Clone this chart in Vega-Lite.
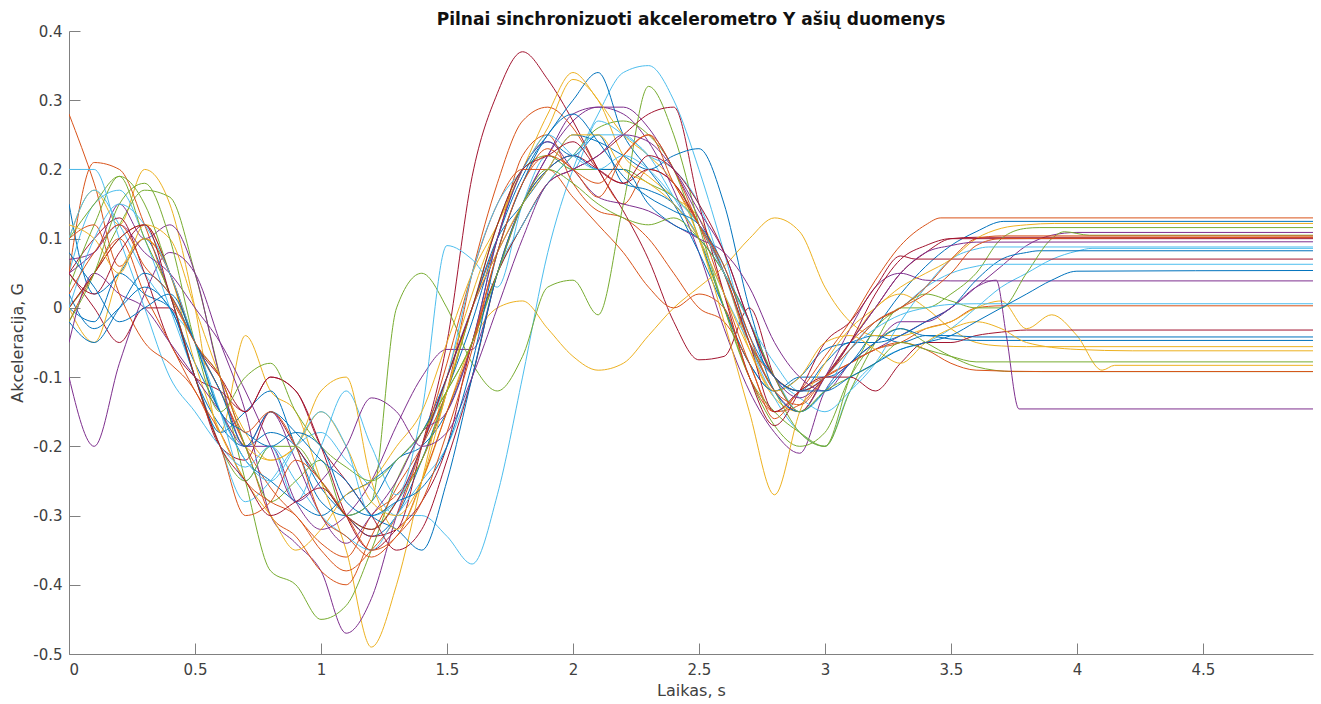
{
"$schema":"https://vega.github.io/schema/vega-lite/v6.json",
"width":1244,"height":623,
"autosize":{"type":"none"},
"padding":{"left":69,"top":31,"right":8,"bottom":50},
"background":"white",
"title":{"text":"Pilnai sinchronizuoti akcelerometro Y ašių duomenys","font":"DejaVu Sans","fontSize":17,"fontWeight":"bold","color":"#111111","offset":-5,"anchor":"middle"},
"config":{"view":{"stroke":null},"axis":{"grid":false,"domainColor":"#808080","tickColor":"#808080","labelColor":"#404040","titleColor":"#404040","labelFont":"DejaVu Sans","titleFont":"DejaVu Sans","labelFontSize":15,"titleFontSize":16,"titleFontWeight":"normal","tickSize":-11,"tickWidth":1,"domainWidth":1}},
"data":{"values":[
{"s":1,"x":0,"y":0.15},{"s":1,"x":0.1,"y":0.02},{"s":1,"x":0.2,"y":0.05},{"s":1,"x":0.3,"y":0.1},{"s":1,"x":0.4,"y":0.02},{"s":1,"x":0.5,"y":-0.1},{"s":1,"x":0.6,"y":-0.17},{"s":1,"x":0.7,"y":-0.2},{"s":1,"x":0.8,"y":-0.18},{"s":1,"x":0.9,"y":-0.2},{"s":1,"x":1.0,"y":-0.26},{"s":1,"x":1.1,"y":-0.3},{"s":1,"x":1.2,"y":-0.33},{"s":1,"x":1.3,"y":-0.3},{"s":1,"x":1.4,"y":-0.22},{"s":1,"x":1.5,"y":-0.12},{"s":1,"x":1.6,"y":-0.02},{"s":1,"x":1.7,"y":0.1},{"s":1,"x":1.8,"y":0.19},{"s":1,"x":1.9,"y":0.24},{"s":1,"x":2.0,"y":0.22},{"s":1,"x":2.1,"y":0.25},{"s":1,"x":2.2,"y":0.18},{"s":1,"x":2.3,"y":0.17},{"s":1,"x":2.4,"y":0.15},{"s":1,"x":2.5,"y":0.1},{"s":1,"x":2.6,"y":0.0},{"s":1,"x":2.7,"y":-0.08},{"s":1,"x":2.8,"y":-0.12},{"s":1,"x":2.9,"y":-0.1},{"s":1,"x":3.0,"y":-0.1},{"s":1,"x":3.1,"y":-0.08},{"s":1,"x":3.2,"y":-0.03},{"s":1,"x":3.3,"y":0.02},{"s":1,"x":3.4,"y":0.06},{"s":1,"x":3.5,"y":0.09},{"s":1,"x":3.6,"y":0.11},{"s":1,"x":3.71,"y":0.125},{"s":1,"x":4.94,"y":0.125},
{"s":2,"x":0,"y":0.28},{"s":2,"x":0.1,"y":0.18},{"s":2,"x":0.2,"y":0.06},{"s":2,"x":0.3,"y":0.1},{"s":2,"x":0.4,"y":0.05},{"s":2,"x":0.5,"y":-0.05},{"s":2,"x":0.6,"y":-0.12},{"s":2,"x":0.7,"y":-0.2},{"s":2,"x":0.8,"y":-0.26},{"s":2,"x":0.9,"y":-0.3},{"s":2,"x":1.0,"y":-0.34},{"s":2,"x":1.1,"y":-0.36},{"s":2,"x":1.2,"y":-0.3},{"s":2,"x":1.3,"y":-0.27},{"s":2,"x":1.4,"y":-0.22},{"s":2,"x":1.5,"y":-0.12},{"s":2,"x":1.6,"y":0.05},{"s":2,"x":1.7,"y":0.18},{"s":2,"x":1.8,"y":0.27},{"s":2,"x":1.9,"y":0.29},{"s":2,"x":2.0,"y":0.26},{"s":2,"x":2.1,"y":0.2},{"s":2,"x":2.2,"y":0.15},{"s":2,"x":2.3,"y":0.2},{"s":2,"x":2.4,"y":0.18},{"s":2,"x":2.5,"y":0.12},{"s":2,"x":2.6,"y":0.02},{"s":2,"x":2.7,"y":-0.08},{"s":2,"x":2.8,"y":-0.15},{"s":2,"x":2.9,"y":-0.12},{"s":2,"x":3.0,"y":-0.07},{"s":2,"x":3.1,"y":-0.02},{"s":2,"x":3.2,"y":0.04},{"s":2,"x":3.3,"y":0.09},{"s":2,"x":3.4,"y":0.12},{"s":2,"x":3.46,"y":0.13},{"s":2,"x":4.94,"y":0.13},
{"s":3,"x":0,"y":0.1},{"s":3,"x":0.1,"y":0.17},{"s":3,"x":0.2,"y":0.12},{"s":3,"x":0.3,"y":0.2},{"s":3,"x":0.4,"y":0.15},{"s":3,"x":0.5,"y":0.0},{"s":3,"x":0.6,"y":-0.18},{"s":3,"x":0.7,"y":-0.04},{"s":3,"x":0.8,"y":-0.12},{"s":3,"x":0.9,"y":-0.15},{"s":3,"x":1.0,"y":-0.25},{"s":3,"x":1.1,"y":-0.35},{"s":3,"x":1.2,"y":-0.49},{"s":3,"x":1.3,"y":-0.4},{"s":3,"x":1.4,"y":-0.25},{"s":3,"x":1.5,"y":-0.1},{"s":3,"x":1.6,"y":0.02},{"s":3,"x":1.7,"y":0.12},{"s":3,"x":1.8,"y":0.2},{"s":3,"x":1.9,"y":0.26},{"s":3,"x":2.0,"y":0.33},{"s":3,"x":2.1,"y":0.3},{"s":3,"x":2.2,"y":0.22},{"s":3,"x":2.3,"y":0.19},{"s":3,"x":2.4,"y":0.16},{"s":3,"x":2.5,"y":0.13},{"s":3,"x":2.6,"y":0.05},{"s":3,"x":2.7,"y":-0.06},{"s":3,"x":2.8,"y":-0.13},{"s":3,"x":2.9,"y":-0.15},{"s":3,"x":3.0,"y":-0.1},{"s":3,"x":3.1,"y":-0.05},{"s":3,"x":3.2,"y":0.0},{"s":3,"x":3.3,"y":0.02},{"s":3,"x":3.4,"y":0.0},{"s":3,"x":3.5,"y":-0.03},{"s":3,"x":3.6,"y":-0.05},{"s":3,"x":3.7,"y":-0.055},{"s":3,"x":3.8,"y":-0.056},{"s":3,"x":4.94,"y":-0.056},
{"s":4,"x":0,"y":-0.1},{"s":4,"x":0.1,"y":-0.2},{"s":4,"x":0.2,"y":-0.08},{"s":4,"x":0.3,"y":0.02},{"s":4,"x":0.4,"y":0.08},{"s":4,"x":0.5,"y":0.05},{"s":4,"x":0.6,"y":-0.05},{"s":4,"x":0.7,"y":-0.15},{"s":4,"x":0.8,"y":-0.3},{"s":4,"x":0.9,"y":-0.34},{"s":4,"x":1.0,"y":-0.38},{"s":4,"x":1.1,"y":-0.47},{"s":4,"x":1.2,"y":-0.42},{"s":4,"x":1.3,"y":-0.3},{"s":4,"x":1.4,"y":-0.2},{"s":4,"x":1.5,"y":-0.1},{"s":4,"x":1.6,"y":0.0},{"s":4,"x":1.7,"y":0.08},{"s":4,"x":1.8,"y":0.15},{"s":4,"x":1.9,"y":0.22},{"s":4,"x":2.0,"y":0.27},{"s":4,"x":2.1,"y":0.29},{"s":4,"x":2.2,"y":0.28},{"s":4,"x":2.3,"y":0.24},{"s":4,"x":2.4,"y":0.17},{"s":4,"x":2.5,"y":0.08},{"s":4,"x":2.6,"y":-0.03},{"s":4,"x":2.7,"y":-0.12},{"s":4,"x":2.8,"y":-0.18},{"s":4,"x":2.9,"y":-0.21},{"s":4,"x":3.0,"y":-0.12},{"s":4,"x":3.1,"y":-0.08},{"s":4,"x":3.2,"y":-0.06},{"s":4,"x":3.3,"y":-0.04},{"s":4,"x":3.4,"y":-0.02},{"s":4,"x":3.5,"y":0.0},{"s":4,"x":3.6,"y":0.03},{"s":4,"x":3.7,"y":0.06},{"s":4,"x":3.8,"y":0.09},{"s":4,"x":3.9,"y":0.105},{"s":4,"x":4.0,"y":0.109},{"s":4,"x":4.94,"y":0.109},
{"s":5,"x":0,"y":0.0},{"s":5,"x":0.1,"y":0.05},{"s":5,"x":0.2,"y":0.12},{"s":5,"x":0.3,"y":0.17},{"s":5,"x":0.4,"y":0.16},{"s":5,"x":0.5,"y":0.05},{"s":5,"x":0.6,"y":-0.1},{"s":5,"x":0.7,"y":-0.25},{"s":5,"x":0.8,"y":-0.38},{"s":5,"x":0.9,"y":-0.4},{"s":5,"x":1.0,"y":-0.45},{"s":5,"x":1.1,"y":-0.43},{"s":5,"x":1.2,"y":-0.35},{"s":5,"x":1.3,"y":-0.25},{"s":5,"x":1.4,"y":-0.18},{"s":5,"x":1.5,"y":-0.12},{"s":5,"x":1.6,"y":-0.05},{"s":5,"x":1.7,"y":0.05},{"s":5,"x":1.8,"y":0.12},{"s":5,"x":1.9,"y":0.18},{"s":5,"x":2.0,"y":0.22},{"s":5,"x":2.1,"y":0.26},{"s":5,"x":2.2,"y":0.27},{"s":5,"x":2.3,"y":0.25},{"s":5,"x":2.4,"y":0.2},{"s":5,"x":2.5,"y":0.1},{"s":5,"x":2.6,"y":0.0},{"s":5,"x":2.7,"y":-0.1},{"s":5,"x":2.8,"y":-0.17},{"s":5,"x":2.9,"y":-0.2},{"s":5,"x":3.0,"y":-0.18},{"s":5,"x":3.1,"y":-0.1},{"s":5,"x":3.2,"y":-0.05},{"s":5,"x":3.3,"y":-0.03},{"s":5,"x":3.4,"y":-0.05},{"s":5,"x":3.5,"y":-0.07},{"s":5,"x":3.6,"y":-0.085},{"s":5,"x":3.75,"y":-0.092},{"s":5,"x":4.94,"y":-0.092},
{"s":6,"x":0,"y":0.05},{"s":6,"x":0.1,"y":0.15},{"s":6,"x":0.2,"y":0.17},{"s":6,"x":0.3,"y":0.1},{"s":6,"x":0.4,"y":0.0},{"s":6,"x":0.5,"y":-0.1},{"s":6,"x":0.6,"y":-0.2},{"s":6,"x":0.7,"y":-0.28},{"s":6,"x":0.8,"y":-0.25},{"s":6,"x":0.9,"y":-0.2},{"s":6,"x":1.0,"y":-0.18},{"s":6,"x":1.1,"y":-0.22},{"s":6,"x":1.2,"y":-0.26},{"s":6,"x":1.3,"y":-0.3},{"s":6,"x":1.4,"y":-0.3},{"s":6,"x":1.5,"y":-0.33},{"s":6,"x":1.6,"y":-0.37},{"s":6,"x":1.7,"y":-0.27},{"s":6,"x":1.8,"y":-0.1},{"s":6,"x":1.9,"y":0.08},{"s":6,"x":2.0,"y":0.2},{"s":6,"x":2.1,"y":0.28},{"s":6,"x":2.2,"y":0.34},{"s":6,"x":2.3,"y":0.35},{"s":6,"x":2.4,"y":0.3},{"s":6,"x":2.5,"y":0.2},{"s":6,"x":2.6,"y":0.08},{"s":6,"x":2.7,"y":-0.05},{"s":6,"x":2.8,"y":-0.13},{"s":6,"x":2.9,"y":-0.18},{"s":6,"x":3.0,"y":-0.2},{"s":6,"x":3.1,"y":-0.12},{"s":6,"x":3.2,"y":-0.08},{"s":6,"x":3.3,"y":-0.06},{"s":6,"x":3.4,"y":-0.05},{"s":6,"x":3.5,"y":-0.03},{"s":6,"x":3.6,"y":0.0},{"s":6,"x":3.7,"y":0.03},{"s":6,"x":3.8,"y":0.05},{"s":6,"x":3.9,"y":0.07},{"s":6,"x":4.0,"y":0.082},{"s":6,"x":4.06,"y":0.086},{"s":6,"x":4.94,"y":0.086},
{"s":7,"x":0,"y":0.05},{"s":7,"x":0.1,"y":0.0},{"s":7,"x":0.2,"y":-0.05},{"s":7,"x":0.3,"y":0.0},{"s":7,"x":0.4,"y":0.0},{"s":7,"x":0.5,"y":-0.1},{"s":7,"x":0.6,"y":-0.2},{"s":7,"x":0.7,"y":-0.22},{"s":7,"x":0.8,"y":-0.15},{"s":7,"x":0.9,"y":-0.2},{"s":7,"x":1.0,"y":-0.25},{"s":7,"x":1.1,"y":-0.3},{"s":7,"x":1.2,"y":-0.33},{"s":7,"x":1.3,"y":-0.32},{"s":7,"x":1.4,"y":-0.2},{"s":7,"x":1.5,"y":-0.05},{"s":7,"x":1.6,"y":0.19},{"s":7,"x":1.7,"y":0.31},{"s":7,"x":1.8,"y":0.37},{"s":7,"x":1.9,"y":0.33},{"s":7,"x":2.0,"y":0.27},{"s":7,"x":2.1,"y":0.2},{"s":7,"x":2.2,"y":0.14},{"s":7,"x":2.3,"y":0.07},{"s":7,"x":2.4,"y":-0.02},{"s":7,"x":2.5,"y":-0.075},{"s":7,"x":2.6,"y":-0.07},{"s":7,"x":2.7,"y":0.0},{"s":7,"x":2.8,"y":-0.1},{"s":7,"x":2.9,"y":-0.15},{"s":7,"x":3.0,"y":-0.1},{"s":7,"x":3.1,"y":-0.05},{"s":7,"x":3.2,"y":0.0},{"s":7,"x":3.3,"y":0.05},{"s":7,"x":3.4,"y":0.08},{"s":7,"x":3.5,"y":0.1},{"s":7,"x":3.6,"y":0.102},{"s":7,"x":4.94,"y":0.102},
{"s":8,"x":0,"y":0.0},{"s":8,"x":0.1,"y":-0.02},{"s":8,"x":0.2,"y":0.05},{"s":8,"x":0.3,"y":0.02},{"s":8,"x":0.4,"y":0.0},{"s":8,"x":0.5,"y":-0.1},{"s":8,"x":0.6,"y":-0.18},{"s":8,"x":0.7,"y":-0.15},{"s":8,"x":0.8,"y":-0.12},{"s":8,"x":0.9,"y":-0.2},{"s":8,"x":1.0,"y":-0.28},{"s":8,"x":1.1,"y":-0.3},{"s":8,"x":1.2,"y":-0.28},{"s":8,"x":1.3,"y":-0.22},{"s":8,"x":1.4,"y":-0.2},{"s":8,"x":1.5,"y":-0.15},{"s":8,"x":1.6,"y":-0.05},{"s":8,"x":1.7,"y":0.1},{"s":8,"x":1.8,"y":0.2},{"s":8,"x":1.9,"y":0.25},{"s":8,"x":2.0,"y":0.3},{"s":8,"x":2.1,"y":0.34},{"s":8,"x":2.2,"y":0.25},{"s":8,"x":2.3,"y":0.2},{"s":8,"x":2.4,"y":0.15},{"s":8,"x":2.5,"y":0.08},{"s":8,"x":2.6,"y":0.0},{"s":8,"x":2.7,"y":-0.08},{"s":8,"x":2.8,"y":-0.12},{"s":8,"x":2.9,"y":-0.1},{"s":8,"x":3.0,"y":-0.06},{"s":8,"x":3.1,"y":-0.05},{"s":8,"x":3.2,"y":-0.04},{"s":8,"x":3.3,"y":-0.05},{"s":8,"x":3.4,"y":-0.04},{"s":8,"x":3.5,"y":-0.045},{"s":8,"x":3.6,"y":-0.047},{"s":8,"x":4.94,"y":-0.047},
{"s":9,"x":0,"y":0.05},{"s":9,"x":0.1,"y":0.21},{"s":9,"x":0.2,"y":0.2},{"s":9,"x":0.3,"y":0.12},{"s":9,"x":0.4,"y":0.02},{"s":9,"x":0.5,"y":-0.05},{"s":9,"x":0.6,"y":-0.12},{"s":9,"x":0.7,"y":-0.2},{"s":9,"x":0.8,"y":-0.3},{"s":9,"x":0.9,"y":-0.33},{"s":9,"x":1.0,"y":-0.38},{"s":9,"x":1.1,"y":-0.4},{"s":9,"x":1.2,"y":-0.33},{"s":9,"x":1.3,"y":-0.26},{"s":9,"x":1.4,"y":-0.2},{"s":9,"x":1.5,"y":-0.12},{"s":9,"x":1.6,"y":0.0},{"s":9,"x":1.7,"y":0.1},{"s":9,"x":1.8,"y":0.22},{"s":9,"x":1.9,"y":0.25},{"s":9,"x":2.0,"y":0.18},{"s":9,"x":2.1,"y":0.14},{"s":9,"x":2.2,"y":0.13},{"s":9,"x":2.3,"y":0.1},{"s":9,"x":2.4,"y":0.05},{"s":9,"x":2.5,"y":0.0},{"s":9,"x":2.6,"y":-0.02},{"s":9,"x":2.7,"y":-0.08},{"s":9,"x":2.8,"y":-0.16},{"s":9,"x":2.9,"y":-0.12},{"s":9,"x":3.0,"y":-0.1},{"s":9,"x":3.1,"y":-0.08},{"s":9,"x":3.2,"y":-0.06},{"s":9,"x":3.3,"y":-0.05},{"s":9,"x":3.4,"y":-0.03},{"s":9,"x":3.5,"y":-0.02},{"s":9,"x":3.6,"y":0.0},{"s":9,"x":3.7,"y":0.003},{"s":9,"x":4.94,"y":0.003},
{"s":10,"x":0,"y":0.0},{"s":10,"x":0.1,"y":0.05},{"s":10,"x":0.2,"y":0.1},{"s":10,"x":0.3,"y":0.12},{"s":10,"x":0.4,"y":0.05},{"s":10,"x":0.5,"y":-0.05},{"s":10,"x":0.6,"y":-0.15},{"s":10,"x":0.7,"y":-0.2},{"s":10,"x":0.8,"y":-0.22},{"s":10,"x":0.9,"y":-0.2},{"s":10,"x":1.0,"y":-0.15},{"s":10,"x":1.1,"y":-0.2},{"s":10,"x":1.2,"y":-0.28},{"s":10,"x":1.3,"y":-0.3},{"s":10,"x":1.4,"y":-0.25},{"s":10,"x":1.5,"y":-0.15},{"s":10,"x":1.6,"y":-0.05},{"s":10,"x":1.7,"y":0.0},{"s":10,"x":1.8,"y":0.01},{"s":10,"x":1.9,"y":-0.03},{"s":10,"x":2.0,"y":-0.07},{"s":10,"x":2.1,"y":-0.09},{"s":10,"x":2.2,"y":-0.08},{"s":10,"x":2.3,"y":-0.04},{"s":10,"x":2.4,"y":0.0},{"s":10,"x":2.5,"y":0.03},{"s":10,"x":2.6,"y":0.06},{"s":10,"x":2.7,"y":0.1},{"s":10,"x":2.8,"y":0.13},{"s":10,"x":2.9,"y":0.11},{"s":10,"x":3.0,"y":0.03},{"s":10,"x":3.1,"y":-0.02},{"s":10,"x":3.2,"y":-0.04},{"s":10,"x":3.3,"y":-0.04},{"s":10,"x":3.4,"y":-0.03},{"s":10,"x":3.5,"y":-0.02},{"s":10,"x":3.6,"y":0.0},{"s":10,"x":3.7,"y":0.01},{"s":10,"x":3.8,"y":-0.03},{"s":10,"x":3.9,"y":-0.01},{"s":10,"x":4.0,"y":-0.04},{"s":10,"x":4.1,"y":-0.09},{"s":10,"x":4.15,"y":-0.083},{"s":10,"x":4.94,"y":-0.083},
{"s":11,"x":0,"y":0.07},{"s":11,"x":0.1,"y":0.08},{"s":11,"x":0.2,"y":0.15},{"s":11,"x":0.3,"y":0.1},{"s":11,"x":0.4,"y":0.12},{"s":11,"x":0.5,"y":0.05},{"s":11,"x":0.6,"y":-0.1},{"s":11,"x":0.7,"y":-0.2},{"s":11,"x":0.8,"y":-0.2},{"s":11,"x":0.9,"y":-0.28},{"s":11,"x":1.0,"y":-0.32},{"s":11,"x":1.1,"y":-0.3},{"s":11,"x":1.2,"y":-0.25},{"s":11,"x":1.3,"y":-0.17},{"s":11,"x":1.4,"y":-0.1},{"s":11,"x":1.5,"y":-0.06},{"s":11,"x":1.6,"y":-0.06},{"s":11,"x":1.7,"y":0.05},{"s":11,"x":1.8,"y":0.15},{"s":11,"x":1.9,"y":0.22},{"s":11,"x":2.0,"y":0.28},{"s":11,"x":2.1,"y":0.29},{"s":11,"x":2.2,"y":0.29},{"s":11,"x":2.3,"y":0.26},{"s":11,"x":2.4,"y":0.2},{"s":11,"x":2.5,"y":0.13},{"s":11,"x":2.6,"y":0.05},{"s":11,"x":2.7,"y":-0.05},{"s":11,"x":2.8,"y":-0.12},{"s":11,"x":2.9,"y":-0.15},{"s":11,"x":3.0,"y":-0.1},{"s":11,"x":3.1,"y":-0.03},{"s":11,"x":3.2,"y":0.03},{"s":11,"x":3.3,"y":0.05},{"s":11,"x":3.4,"y":0.04},{"s":11,"x":3.5,"y":0.039},{"s":11,"x":4.94,"y":0.039},
{"s":12,"x":0,"y":0.1},{"s":12,"x":0.1,"y":0.15},{"s":12,"x":0.2,"y":0.19},{"s":12,"x":0.3,"y":0.15},{"s":12,"x":0.4,"y":0.05},{"s":12,"x":0.5,"y":-0.05},{"s":12,"x":0.6,"y":-0.1},{"s":12,"x":0.7,"y":-0.2},{"s":12,"x":0.8,"y":-0.28},{"s":12,"x":0.9,"y":-0.25},{"s":12,"x":1.0,"y":-0.22},{"s":12,"x":1.1,"y":-0.3},{"s":12,"x":1.2,"y":-0.28},{"s":12,"x":1.3,"y":0.0},{"s":12,"x":1.4,"y":0.05},{"s":12,"x":1.5,"y":0.0},{"s":12,"x":1.6,"y":-0.08},{"s":12,"x":1.7,"y":-0.12},{"s":12,"x":1.8,"y":-0.07},{"s":12,"x":1.9,"y":0.03},{"s":12,"x":2.0,"y":0.04},{"s":12,"x":2.1,"y":-0.01},{"s":12,"x":2.2,"y":0.15},{"s":12,"x":2.3,"y":0.32},{"s":12,"x":2.4,"y":0.25},{"s":12,"x":2.5,"y":0.12},{"s":12,"x":2.6,"y":0.0},{"s":12,"x":2.7,"y":-0.1},{"s":12,"x":2.8,"y":-0.15},{"s":12,"x":2.9,"y":-0.18},{"s":12,"x":3.0,"y":-0.2},{"s":12,"x":3.1,"y":-0.12},{"s":12,"x":3.2,"y":-0.05},{"s":12,"x":3.3,"y":0.0},{"s":12,"x":3.4,"y":0.0},{"s":12,"x":3.5,"y":0.02},{"s":12,"x":3.6,"y":0.05},{"s":12,"x":3.7,"y":0.1},{"s":12,"x":3.8,"y":0.115},{"s":12,"x":3.85,"y":0.116},{"s":12,"x":4.94,"y":0.116},
{"s":13,"x":0,"y":0.1},{"s":13,"x":0.1,"y":0.17},{"s":13,"x":0.2,"y":0.12},{"s":13,"x":0.3,"y":0.05},{"s":13,"x":0.4,"y":0.0},{"s":13,"x":0.5,"y":-0.05},{"s":13,"x":0.6,"y":-0.15},{"s":13,"x":0.7,"y":-0.25},{"s":13,"x":0.8,"y":-0.2},{"s":13,"x":0.9,"y":-0.28},{"s":13,"x":1.0,"y":-0.2},{"s":13,"x":1.1,"y":-0.12},{"s":13,"x":1.2,"y":-0.2},{"s":13,"x":1.3,"y":-0.27},{"s":13,"x":1.4,"y":-0.15},{"s":13,"x":1.5,"y":0.09},{"s":13,"x":1.6,"y":0.07},{"s":13,"x":1.7,"y":0.03},{"s":13,"x":1.8,"y":0.15},{"s":13,"x":1.9,"y":0.22},{"s":13,"x":2.0,"y":0.2},{"s":13,"x":2.1,"y":0.27},{"s":13,"x":2.2,"y":0.25},{"s":13,"x":2.3,"y":0.22},{"s":13,"x":2.4,"y":0.16},{"s":13,"x":2.5,"y":0.1},{"s":13,"x":2.6,"y":0.02},{"s":13,"x":2.7,"y":-0.05},{"s":13,"x":2.8,"y":-0.1},{"s":13,"x":2.9,"y":-0.13},{"s":13,"x":3.0,"y":-0.15},{"s":13,"x":3.1,"y":-0.12},{"s":13,"x":3.2,"y":-0.08},{"s":13,"x":3.3,"y":-0.02},{"s":13,"x":3.4,"y":0.03},{"s":13,"x":3.5,"y":0.07},{"s":13,"x":3.6,"y":0.085},{"s":13,"x":3.65,"y":0.088},{"s":13,"x":4.94,"y":0.088},
{"s":14,"x":0,"y":0.05},{"s":14,"x":0.1,"y":0.1},{"s":14,"x":0.2,"y":0.13},{"s":14,"x":0.3,"y":0.05},{"s":14,"x":0.4,"y":-0.05},{"s":14,"x":0.5,"y":-0.1},{"s":14,"x":0.6,"y":-0.12},{"s":14,"x":0.7,"y":-0.15},{"s":14,"x":0.8,"y":-0.1},{"s":14,"x":0.9,"y":-0.12},{"s":14,"x":1.0,"y":-0.2},{"s":14,"x":1.1,"y":-0.3},{"s":14,"x":1.2,"y":-0.35},{"s":14,"x":1.3,"y":-0.32},{"s":14,"x":1.4,"y":-0.28},{"s":14,"x":1.5,"y":-0.2},{"s":14,"x":1.6,"y":-0.05},{"s":14,"x":1.7,"y":0.05},{"s":14,"x":1.8,"y":0.12},{"s":14,"x":1.9,"y":0.18},{"s":14,"x":2.0,"y":0.2},{"s":14,"x":2.1,"y":0.22},{"s":14,"x":2.2,"y":0.25},{"s":14,"x":2.3,"y":0.28},{"s":14,"x":2.4,"y":0.29},{"s":14,"x":2.5,"y":0.15},{"s":14,"x":2.6,"y":0.02},{"s":14,"x":2.7,"y":-0.1},{"s":14,"x":2.8,"y":-0.17},{"s":14,"x":2.9,"y":-0.12},{"s":14,"x":3.0,"y":-0.05},{"s":14,"x":3.1,"y":-0.02},{"s":14,"x":3.2,"y":0.03},{"s":14,"x":3.3,"y":0.075},{"s":14,"x":3.36,"y":0.0705},{"s":14,"x":4.94,"y":0.0705},
{"s":15,"x":0,"y":0.02},{"s":15,"x":0.1,"y":-0.03},{"s":15,"x":0.2,"y":0.0},{"s":15,"x":0.3,"y":0.03},{"s":15,"x":0.4,"y":0.0},{"s":15,"x":0.5,"y":-0.08},{"s":15,"x":0.6,"y":-0.15},{"s":15,"x":0.7,"y":-0.22},{"s":15,"x":0.8,"y":-0.25},{"s":15,"x":0.9,"y":-0.28},{"s":15,"x":1.0,"y":-0.3},{"s":15,"x":1.1,"y":-0.27},{"s":15,"x":1.2,"y":-0.25},{"s":15,"x":1.3,"y":-0.22},{"s":15,"x":1.4,"y":-0.18},{"s":15,"x":1.5,"y":-0.1},{"s":15,"x":1.6,"y":0.0},{"s":15,"x":1.7,"y":0.1},{"s":15,"x":1.8,"y":0.15},{"s":15,"x":1.9,"y":0.2},{"s":15,"x":2.0,"y":0.25},{"s":15,"x":2.1,"y":0.24},{"s":15,"x":2.2,"y":0.22},{"s":15,"x":2.3,"y":0.2},{"s":15,"x":2.4,"y":0.22},{"s":15,"x":2.5,"y":0.23},{"s":15,"x":2.6,"y":0.15},{"s":15,"x":2.7,"y":0.0},{"s":15,"x":2.8,"y":-0.1},{"s":15,"x":2.9,"y":-0.12},{"s":15,"x":3.0,"y":-0.08},{"s":15,"x":3.1,"y":-0.05},{"s":15,"x":3.2,"y":-0.05},{"s":15,"x":3.3,"y":-0.04},{"s":15,"x":3.4,"y":-0.02},{"s":15,"x":3.5,"y":0.0},{"s":15,"x":3.6,"y":0.04},{"s":15,"x":3.7,"y":0.07},{"s":15,"x":3.8,"y":0.08},{"s":15,"x":3.85,"y":0.0825},{"s":15,"x":4.94,"y":0.0825},
{"s":16,"x":0,"y":-0.02},{"s":16,"x":0.1,"y":0.05},{"s":16,"x":0.2,"y":0.1},{"s":16,"x":0.3,"y":0.02},{"s":16,"x":0.4,"y":-0.05},{"s":16,"x":0.5,"y":-0.12},{"s":16,"x":0.6,"y":-0.18},{"s":16,"x":0.7,"y":-0.25},{"s":16,"x":0.8,"y":-0.28},{"s":16,"x":0.9,"y":-0.3},{"s":16,"x":1.0,"y":-0.35},{"s":16,"x":1.1,"y":-0.38},{"s":16,"x":1.2,"y":-0.35},{"s":16,"x":1.3,"y":-0.3},{"s":16,"x":1.4,"y":-0.2},{"s":16,"x":1.5,"y":-0.08},{"s":16,"x":1.6,"y":0.05},{"s":16,"x":1.7,"y":0.15},{"s":16,"x":1.8,"y":0.2},{"s":16,"x":1.9,"y":0.2},{"s":16,"x":2.0,"y":0.16},{"s":16,"x":2.1,"y":0.12},{"s":16,"x":2.2,"y":0.08},{"s":16,"x":2.3,"y":0.03},{"s":16,"x":2.4,"y":0.0},{"s":16,"x":2.5,"y":0.02},{"s":16,"x":2.6,"y":0.0},{"s":16,"x":2.7,"y":-0.1},{"s":16,"x":2.8,"y":-0.15},{"s":16,"x":2.9,"y":-0.14},{"s":16,"x":3.0,"y":-0.1},{"s":16,"x":3.1,"y":-0.08},{"s":16,"x":3.2,"y":-0.06},{"s":16,"x":3.3,"y":-0.05},{"s":16,"x":3.4,"y":-0.06},{"s":16,"x":3.5,"y":-0.08},{"s":16,"x":3.6,"y":-0.09},{"s":16,"x":3.86,"y":-0.092},{"s":16,"x":4.94,"y":-0.092},
{"s":17,"x":0,"y":0.0},{"s":17,"x":0.1,"y":-0.05},{"s":17,"x":0.2,"y":0.05},{"s":17,"x":0.3,"y":0.1},{"s":17,"x":0.4,"y":0.05},{"s":17,"x":0.5,"y":-0.08},{"s":17,"x":0.6,"y":-0.18},{"s":17,"x":0.7,"y":-0.25},{"s":17,"x":0.8,"y":-0.3},{"s":17,"x":0.9,"y":-0.35},{"s":17,"x":1.0,"y":-0.32},{"s":17,"x":1.1,"y":-0.27},{"s":17,"x":1.2,"y":-0.25},{"s":17,"x":1.3,"y":-0.2},{"s":17,"x":1.4,"y":-0.15},{"s":17,"x":1.5,"y":-0.05},{"s":17,"x":1.6,"y":0.05},{"s":17,"x":1.7,"y":0.12},{"s":17,"x":1.8,"y":0.2},{"s":17,"x":1.9,"y":0.28},{"s":17,"x":2.0,"y":0.34},{"s":17,"x":2.1,"y":0.3},{"s":17,"x":2.2,"y":0.25},{"s":17,"x":2.3,"y":0.22},{"s":17,"x":2.4,"y":0.18},{"s":17,"x":2.5,"y":0.1},{"s":17,"x":2.6,"y":-0.02},{"s":17,"x":2.7,"y":-0.15},{"s":17,"x":2.8,"y":-0.27},{"s":17,"x":2.9,"y":-0.15},{"s":17,"x":3.0,"y":-0.08},{"s":17,"x":3.1,"y":-0.03},{"s":17,"x":3.2,"y":0.0},{"s":17,"x":3.3,"y":0.03},{"s":17,"x":3.4,"y":0.05},{"s":17,"x":3.5,"y":0.07},{"s":17,"x":3.6,"y":0.1},{"s":17,"x":3.7,"y":0.115},{"s":17,"x":3.8,"y":0.12},{"s":17,"x":3.91,"y":0.122},{"s":17,"x":4.94,"y":0.122},
{"s":18,"x":0,"y":-0.05},{"s":18,"x":0.1,"y":0.05},{"s":18,"x":0.2,"y":0.02},{"s":18,"x":0.3,"y":0.0},{"s":18,"x":0.4,"y":-0.05},{"s":18,"x":0.5,"y":-0.1},{"s":18,"x":0.6,"y":-0.15},{"s":18,"x":0.7,"y":-0.2},{"s":18,"x":0.8,"y":-0.15},{"s":18,"x":0.9,"y":-0.22},{"s":18,"x":1.0,"y":-0.3},{"s":18,"x":1.1,"y":-0.34},{"s":18,"x":1.2,"y":-0.3},{"s":18,"x":1.3,"y":-0.25},{"s":18,"x":1.4,"y":-0.18},{"s":18,"x":1.5,"y":-0.15},{"s":18,"x":1.6,"y":-0.05},{"s":18,"x":1.7,"y":0.1},{"s":18,"x":1.8,"y":0.2},{"s":18,"x":1.9,"y":0.24},{"s":18,"x":2.0,"y":0.2},{"s":18,"x":2.1,"y":0.16},{"s":18,"x":2.2,"y":0.15},{"s":18,"x":2.3,"y":0.14},{"s":18,"x":2.4,"y":0.12},{"s":18,"x":2.5,"y":0.1},{"s":18,"x":2.6,"y":0.08},{"s":18,"x":2.7,"y":0.03},{"s":18,"x":2.8,"y":-0.05},{"s":18,"x":2.9,"y":-0.1},{"s":18,"x":3.0,"y":-0.12},{"s":18,"x":3.1,"y":-0.08},{"s":18,"x":3.2,"y":-0.05},{"s":18,"x":3.3,"y":-0.02},{"s":18,"x":3.4,"y":-0.02},{"s":18,"x":3.5,"y":0.0},{"s":18,"x":3.6,"y":0.03},{"s":18,"x":3.68,"y":0.04},{"s":18,"x":3.72,"y":-0.04},{"s":18,"x":3.77,"y":-0.146},{"s":18,"x":4.94,"y":-0.146},
{"s":19,"x":0,"y":0.03},{"s":19,"x":0.1,"y":0.12},{"s":19,"x":0.2,"y":0.19},{"s":19,"x":0.3,"y":0.1},{"s":19,"x":0.4,"y":0.02},{"s":19,"x":0.5,"y":-0.1},{"s":19,"x":0.6,"y":-0.2},{"s":19,"x":0.7,"y":-0.25},{"s":19,"x":0.8,"y":-0.2},{"s":19,"x":0.9,"y":-0.2},{"s":19,"x":1.0,"y":-0.25},{"s":19,"x":1.1,"y":-0.3},{"s":19,"x":1.2,"y":-0.32},{"s":19,"x":1.3,"y":-0.28},{"s":19,"x":1.4,"y":-0.22},{"s":19,"x":1.5,"y":-0.12},{"s":19,"x":1.6,"y":0.0},{"s":19,"x":1.7,"y":0.12},{"s":19,"x":1.8,"y":0.2},{"s":19,"x":1.9,"y":0.22},{"s":19,"x":2.0,"y":0.2},{"s":19,"x":2.1,"y":0.2},{"s":19,"x":2.2,"y":0.2},{"s":19,"x":2.3,"y":0.18},{"s":19,"x":2.4,"y":0.16},{"s":19,"x":2.5,"y":0.12},{"s":19,"x":2.6,"y":0.05},{"s":19,"x":2.7,"y":-0.05},{"s":19,"x":2.8,"y":-0.12},{"s":19,"x":2.9,"y":-0.18},{"s":19,"x":3.0,"y":-0.2},{"s":19,"x":3.1,"y":-0.1},{"s":19,"x":3.2,"y":-0.03},{"s":19,"x":3.3,"y":0.0},{"s":19,"x":3.4,"y":0.02},{"s":19,"x":3.5,"y":0.01},{"s":19,"x":3.6,"y":0.0},{"s":19,"x":3.7,"y":0.0},{"s":19,"x":3.8,"y":0.05},{"s":19,"x":3.9,"y":0.1},{"s":19,"x":3.95,"y":0.11},{"s":19,"x":4.05,"y":0.105},{"s":19,"x":4.94,"y":0.105},
{"s":20,"x":0,"y":0.2},{"s":20,"x":0.1,"y":0.2},{"s":20,"x":0.2,"y":0.1},{"s":20,"x":0.3,"y":0.0},{"s":20,"x":0.4,"y":-0.1},{"s":20,"x":0.5,"y":-0.15},{"s":20,"x":0.6,"y":-0.2},{"s":20,"x":0.7,"y":-0.23},{"s":20,"x":0.8,"y":-0.2},{"s":20,"x":0.9,"y":-0.25},{"s":20,"x":1.0,"y":-0.3},{"s":20,"x":1.1,"y":-0.33},{"s":20,"x":1.2,"y":-0.35},{"s":20,"x":1.3,"y":-0.3},{"s":20,"x":1.4,"y":-0.25},{"s":20,"x":1.5,"y":-0.2},{"s":20,"x":1.6,"y":-0.1},{"s":20,"x":1.7,"y":0.05},{"s":20,"x":1.8,"y":0.12},{"s":20,"x":1.9,"y":0.18},{"s":20,"x":2.0,"y":0.22},{"s":20,"x":2.1,"y":0.25},{"s":20,"x":2.2,"y":0.25},{"s":20,"x":2.3,"y":0.22},{"s":20,"x":2.4,"y":0.2},{"s":20,"x":2.5,"y":0.15},{"s":20,"x":2.6,"y":0.05},{"s":20,"x":2.7,"y":-0.05},{"s":20,"x":2.8,"y":-0.1},{"s":20,"x":2.9,"y":-0.15},{"s":20,"x":3.0,"y":-0.12},{"s":20,"x":3.1,"y":-0.06},{"s":20,"x":3.2,"y":-0.02},{"s":20,"x":3.3,"y":0.0},{"s":20,"x":3.4,"y":0.03},{"s":20,"x":3.5,"y":0.05},{"s":20,"x":3.6,"y":0.06},{"s":20,"x":3.65,"y":0.063},{"s":20,"x":4.94,"y":0.063},
{"s":21,"x":0,"y":0.0},{"s":21,"x":0.1,"y":0.05},{"s":21,"x":0.2,"y":0.1},{"s":21,"x":0.3,"y":0.12},{"s":21,"x":0.4,"y":0.05},{"s":21,"x":0.5,"y":-0.05},{"s":21,"x":0.6,"y":-0.1},{"s":21,"x":0.7,"y":-0.15},{"s":21,"x":0.8,"y":-0.1},{"s":21,"x":0.9,"y":-0.12},{"s":21,"x":1.0,"y":-0.2},{"s":21,"x":1.1,"y":-0.25},{"s":21,"x":1.2,"y":-0.3},{"s":21,"x":1.3,"y":-0.35},{"s":21,"x":1.4,"y":-0.32},{"s":21,"x":1.5,"y":-0.22},{"s":21,"x":1.6,"y":-0.1},{"s":21,"x":1.7,"y":0.05},{"s":21,"x":1.8,"y":0.15},{"s":21,"x":1.9,"y":0.2},{"s":21,"x":2.0,"y":0.22},{"s":21,"x":2.1,"y":0.2},{"s":21,"x":2.2,"y":0.18},{"s":21,"x":2.3,"y":0.2},{"s":21,"x":2.4,"y":0.18},{"s":21,"x":2.5,"y":0.12},{"s":21,"x":2.6,"y":0.05},{"s":21,"x":2.7,"y":-0.05},{"s":21,"x":2.8,"y":-0.15},{"s":21,"x":2.9,"y":-0.12},{"s":21,"x":3.0,"y":-0.1},{"s":21,"x":3.1,"y":-0.1},{"s":21,"x":3.2,"y":-0.12},{"s":21,"x":3.3,"y":-0.08},{"s":21,"x":3.4,"y":-0.05},{"s":21,"x":3.5,"y":-0.05},{"s":21,"x":3.6,"y":-0.04},{"s":21,"x":3.7,"y":-0.035},{"s":21,"x":3.8,"y":-0.032},{"s":21,"x":4.94,"y":-0.032},
{"s":22,"x":0,"y":-0.02},{"s":22,"x":0.1,"y":-0.05},{"s":22,"x":0.2,"y":0.0},{"s":22,"x":0.3,"y":0.05},{"s":22,"x":0.4,"y":0.02},{"s":22,"x":0.5,"y":-0.05},{"s":22,"x":0.6,"y":-0.12},{"s":22,"x":0.7,"y":-0.2},{"s":22,"x":0.8,"y":-0.15},{"s":22,"x":0.9,"y":-0.18},{"s":22,"x":1.0,"y":-0.22},{"s":22,"x":1.1,"y":-0.25},{"s":22,"x":1.2,"y":-0.3},{"s":22,"x":1.3,"y":-0.32},{"s":22,"x":1.4,"y":-0.35},{"s":22,"x":1.5,"y":-0.25},{"s":22,"x":1.6,"y":-0.1},{"s":22,"x":1.7,"y":0.05},{"s":22,"x":1.8,"y":0.15},{"s":22,"x":1.9,"y":0.2},{"s":22,"x":2.0,"y":0.22},{"s":22,"x":2.1,"y":0.2},{"s":22,"x":2.2,"y":0.2},{"s":22,"x":2.3,"y":0.15},{"s":22,"x":2.4,"y":0.12},{"s":22,"x":2.5,"y":0.1},{"s":22,"x":2.6,"y":0.05},{"s":22,"x":2.7,"y":-0.02},{"s":22,"x":2.8,"y":-0.12},{"s":22,"x":2.9,"y":-0.15},{"s":22,"x":3.0,"y":-0.12},{"s":22,"x":3.1,"y":-0.08},{"s":22,"x":3.2,"y":-0.05},{"s":22,"x":3.3,"y":-0.03},{"s":22,"x":3.4,"y":-0.04},{"s":22,"x":3.5,"y":-0.04},{"s":22,"x":3.6,"y":-0.042},{"s":22,"x":4.94,"y":-0.042},
{"s":23,"x":0,"y":0.1},{"s":23,"x":0.1,"y":0.12},{"s":23,"x":0.2,"y":0.02},{"s":23,"x":0.3,"y":-0.05},{"s":23,"x":0.4,"y":-0.08},{"s":23,"x":0.5,"y":-0.12},{"s":23,"x":0.6,"y":-0.2},{"s":23,"x":0.7,"y":-0.3},{"s":23,"x":0.8,"y":-0.28},{"s":23,"x":0.9,"y":-0.22},{"s":23,"x":1.0,"y":-0.25},{"s":23,"x":1.1,"y":-0.3},{"s":23,"x":1.2,"y":-0.35},{"s":23,"x":1.3,"y":-0.33},{"s":23,"x":1.4,"y":-0.25},{"s":23,"x":1.5,"y":-0.15},{"s":23,"x":1.6,"y":-0.05},{"s":23,"x":1.7,"y":0.08},{"s":23,"x":1.8,"y":0.18},{"s":23,"x":1.9,"y":0.23},{"s":23,"x":2.0,"y":0.2},{"s":23,"x":2.1,"y":0.18},{"s":23,"x":2.2,"y":0.22},{"s":23,"x":2.3,"y":0.25},{"s":23,"x":2.4,"y":0.2},{"s":23,"x":2.5,"y":0.12},{"s":23,"x":2.6,"y":0.05},{"s":23,"x":2.7,"y":-0.05},{"s":23,"x":2.8,"y":-0.1},{"s":23,"x":2.9,"y":-0.12},{"s":23,"x":3.0,"y":-0.1},{"s":23,"x":3.1,"y":-0.05},{"s":23,"x":3.2,"y":-0.02},{"s":23,"x":3.3,"y":0.0},{"s":23,"x":3.4,"y":0.03},{"s":23,"x":3.5,"y":0.07},{"s":23,"x":3.6,"y":0.1},{"s":23,"x":3.7,"y":0.104},{"s":23,"x":4.94,"y":0.104},
{"s":24,"x":0,"y":0.12},{"s":24,"x":0.1,"y":0.1},{"s":24,"x":0.2,"y":0.05},{"s":24,"x":0.3,"y":0.12},{"s":24,"x":0.4,"y":0.1},{"s":24,"x":0.5,"y":0.0},{"s":24,"x":0.6,"y":-0.1},{"s":24,"x":0.7,"y":-0.18},{"s":24,"x":0.8,"y":-0.22},{"s":24,"x":0.9,"y":-0.2},{"s":24,"x":1.0,"y":-0.12},{"s":24,"x":1.1,"y":-0.1},{"s":24,"x":1.2,"y":-0.25},{"s":24,"x":1.3,"y":-0.32},{"s":24,"x":1.4,"y":-0.25},{"s":24,"x":1.5,"y":-0.12},{"s":24,"x":1.6,"y":0.0},{"s":24,"x":1.7,"y":0.08},{"s":24,"x":1.8,"y":0.15},{"s":24,"x":1.9,"y":0.2},{"s":24,"x":2.0,"y":0.25},{"s":24,"x":2.1,"y":0.25},{"s":24,"x":2.2,"y":0.2},{"s":24,"x":2.3,"y":0.18},{"s":24,"x":2.4,"y":0.15},{"s":24,"x":2.5,"y":0.1},{"s":24,"x":2.6,"y":0.02},{"s":24,"x":2.7,"y":-0.06},{"s":24,"x":2.8,"y":-0.12},{"s":24,"x":2.9,"y":-0.1},{"s":24,"x":3.0,"y":-0.05},{"s":24,"x":3.1,"y":-0.04},{"s":24,"x":3.2,"y":-0.06},{"s":24,"x":3.3,"y":-0.08},{"s":24,"x":3.4,"y":-0.05},{"s":24,"x":3.5,"y":-0.03},{"s":24,"x":3.6,"y":-0.02},{"s":24,"x":3.7,"y":-0.03},{"s":24,"x":3.8,"y":-0.05},{"s":24,"x":4.0,"y":-0.06},{"s":24,"x":4.22,"y":-0.062},{"s":24,"x":4.94,"y":-0.062},
{"s":25,"x":0,"y":0.05},{"s":25,"x":0.1,"y":0.08},{"s":25,"x":0.2,"y":0.12},{"s":25,"x":0.3,"y":0.08},{"s":25,"x":0.4,"y":0.05},{"s":25,"x":0.5,"y":0.0},{"s":25,"x":0.6,"y":-0.05},{"s":25,"x":0.7,"y":-0.12},{"s":25,"x":0.8,"y":-0.2},{"s":25,"x":0.9,"y":-0.28},{"s":25,"x":1.0,"y":-0.25},{"s":25,"x":1.1,"y":-0.2},{"s":25,"x":1.2,"y":-0.13},{"s":25,"x":1.3,"y":-0.15},{"s":25,"x":1.4,"y":-0.2},{"s":25,"x":1.5,"y":-0.18},{"s":25,"x":1.6,"y":-0.1},{"s":25,"x":1.7,"y":0.0},{"s":25,"x":1.8,"y":0.1},{"s":25,"x":1.9,"y":0.18},{"s":25,"x":2.0,"y":0.2},{"s":25,"x":2.1,"y":0.22},{"s":25,"x":2.2,"y":0.25},{"s":25,"x":2.3,"y":0.24},{"s":25,"x":2.4,"y":0.2},{"s":25,"x":2.5,"y":0.14},{"s":25,"x":2.6,"y":0.08},{"s":25,"x":2.7,"y":-0.02},{"s":25,"x":2.8,"y":-0.1},{"s":25,"x":2.9,"y":-0.13},{"s":25,"x":3.0,"y":-0.1},{"s":25,"x":3.1,"y":-0.05},{"s":25,"x":3.2,"y":0.0},{"s":25,"x":3.3,"y":0.05},{"s":25,"x":3.4,"y":0.08},{"s":25,"x":3.5,"y":0.09},{"s":25,"x":3.6,"y":0.095},{"s":25,"x":4.94,"y":0.0955},
{"s":26,"x":0,"y":-0.02},{"s":26,"x":0.1,"y":0.05},{"s":26,"x":0.2,"y":0.15},{"s":26,"x":0.3,"y":0.18},{"s":26,"x":0.4,"y":0.1},{"s":26,"x":0.5,"y":-0.05},{"s":26,"x":0.6,"y":-0.15},{"s":26,"x":0.7,"y":-0.1},{"s":26,"x":0.8,"y":-0.08},{"s":26,"x":0.9,"y":-0.15},{"s":26,"x":1.0,"y":-0.2},{"s":26,"x":1.1,"y":-0.23},{"s":26,"x":1.2,"y":-0.25},{"s":26,"x":1.3,"y":-0.22},{"s":26,"x":1.4,"y":-0.18},{"s":26,"x":1.5,"y":-0.12},{"s":26,"x":1.6,"y":-0.05},{"s":26,"x":1.7,"y":0.05},{"s":26,"x":1.8,"y":0.15},{"s":26,"x":1.9,"y":0.2},{"s":26,"x":2.0,"y":0.18},{"s":26,"x":2.1,"y":0.15},{"s":26,"x":2.2,"y":0.13},{"s":26,"x":2.3,"y":0.12},{"s":26,"x":2.4,"y":0.13},{"s":26,"x":2.5,"y":0.1},{"s":26,"x":2.6,"y":0.05},{"s":26,"x":2.7,"y":-0.02},{"s":26,"x":2.8,"y":-0.1},{"s":26,"x":2.9,"y":-0.15},{"s":26,"x":3.0,"y":-0.12},{"s":26,"x":3.1,"y":-0.1},{"s":26,"x":3.2,"y":-0.08},{"s":26,"x":3.3,"y":-0.05},{"s":26,"x":3.4,"y":-0.06},{"s":26,"x":3.5,"y":-0.07},{"s":26,"x":3.6,"y":-0.078},{"s":26,"x":4.94,"y":-0.078},
{"s":27,"x":0,"y":0.0},{"s":27,"x":0.1,"y":0.1},{"s":27,"x":0.2,"y":0.15},{"s":27,"x":0.3,"y":0.12},{"s":27,"x":0.4,"y":0.05},{"s":27,"x":0.5,"y":-0.05},{"s":27,"x":0.6,"y":-0.15},{"s":27,"x":0.7,"y":-0.22},{"s":27,"x":0.8,"y":-0.25},{"s":27,"x":0.9,"y":-0.2},{"s":27,"x":1.0,"y":-0.15},{"s":27,"x":1.1,"y":-0.2},{"s":27,"x":1.2,"y":-0.3},{"s":27,"x":1.3,"y":-0.28},{"s":27,"x":1.4,"y":-0.2},{"s":27,"x":1.5,"y":-0.1},{"s":27,"x":1.6,"y":0.05},{"s":27,"x":1.7,"y":0.15},{"s":27,"x":1.8,"y":0.2},{"s":27,"x":1.9,"y":0.25},{"s":27,"x":2.0,"y":0.22},{"s":27,"x":2.1,"y":0.2},{"s":27,"x":2.2,"y":0.22},{"s":27,"x":2.3,"y":0.2},{"s":27,"x":2.4,"y":0.16},{"s":27,"x":2.5,"y":0.12},{"s":27,"x":2.6,"y":0.05},{"s":27,"x":2.7,"y":-0.02},{"s":27,"x":2.8,"y":-0.08},{"s":27,"x":2.9,"y":-0.12},{"s":27,"x":3.0,"y":-0.1},{"s":27,"x":3.1,"y":-0.06},{"s":27,"x":3.2,"y":-0.03},{"s":27,"x":3.3,"y":-0.01},{"s":27,"x":3.4,"y":0.0},{"s":27,"x":3.5,"y":0.005},{"s":27,"x":3.6,"y":0.006},{"s":27,"x":4.94,"y":0.006},
{"s":28,"x":0,"y":0.05},{"s":28,"x":0.1,"y":0.02},{"s":28,"x":0.2,"y":0.08},{"s":28,"x":0.3,"y":0.12},{"s":28,"x":0.4,"y":0.02},{"s":28,"x":0.5,"y":-0.1},{"s":28,"x":0.6,"y":-0.2},{"s":28,"x":0.7,"y":-0.25},{"s":28,"x":0.8,"y":-0.3},{"s":28,"x":0.9,"y":-0.28},{"s":28,"x":1.0,"y":-0.26},{"s":28,"x":1.1,"y":-0.3},{"s":28,"x":1.2,"y":-0.32},{"s":28,"x":1.3,"y":-0.28},{"s":28,"x":1.4,"y":-0.2},{"s":28,"x":1.5,"y":-0.1},{"s":28,"x":1.6,"y":0.0},{"s":28,"x":1.7,"y":0.12},{"s":28,"x":1.8,"y":0.2},{"s":28,"x":1.9,"y":0.22},{"s":28,"x":2.0,"y":0.24},{"s":28,"x":2.1,"y":0.2},{"s":28,"x":2.2,"y":0.18},{"s":28,"x":2.3,"y":0.22},{"s":28,"x":2.4,"y":0.2},{"s":28,"x":2.5,"y":0.15},{"s":28,"x":2.6,"y":0.08},{"s":28,"x":2.7,"y":-0.02},{"s":28,"x":2.8,"y":-0.1},{"s":28,"x":2.9,"y":-0.12},{"s":28,"x":3.0,"y":-0.1},{"s":28,"x":3.1,"y":-0.05},{"s":28,"x":3.2,"y":0.02},{"s":28,"x":3.3,"y":0.07},{"s":28,"x":3.4,"y":0.09},{"s":28,"x":3.5,"y":0.1},{"s":28,"x":4.94,"y":0.1},
{"s":29,"x":0,"y":0.08},{"s":29,"x":0.1,"y":0.03},{"s":29,"x":0.2,"y":-0.02},{"s":29,"x":0.3,"y":0.0},{"s":29,"x":0.4,"y":0.02},{"s":29,"x":0.5,"y":-0.05},{"s":29,"x":0.6,"y":-0.15},{"s":29,"x":0.7,"y":-0.18},{"s":29,"x":0.8,"y":-0.2},{"s":29,"x":0.9,"y":-0.18},{"s":29,"x":1.0,"y":-0.2},{"s":29,"x":1.1,"y":-0.28},{"s":29,"x":1.2,"y":-0.3},{"s":29,"x":1.3,"y":-0.28},{"s":29,"x":1.4,"y":-0.26},{"s":29,"x":1.5,"y":-0.2},{"s":29,"x":1.6,"y":-0.08},{"s":29,"x":1.7,"y":0.08},{"s":29,"x":1.8,"y":0.18},{"s":29,"x":1.9,"y":0.25},{"s":29,"x":2.0,"y":0.28},{"s":29,"x":2.1,"y":0.24},{"s":29,"x":2.2,"y":0.19},{"s":29,"x":2.3,"y":0.16},{"s":29,"x":2.4,"y":0.14},{"s":29,"x":2.5,"y":0.12},{"s":29,"x":2.6,"y":0.06},{"s":29,"x":2.7,"y":-0.04},{"s":29,"x":2.8,"y":-0.1},{"s":29,"x":2.9,"y":-0.12},{"s":29,"x":3.0,"y":-0.12},{"s":29,"x":3.1,"y":-0.1},{"s":29,"x":3.2,"y":-0.08},{"s":29,"x":3.3,"y":-0.06},{"s":29,"x":3.4,"y":-0.05},{"s":29,"x":3.5,"y":-0.04},{"s":29,"x":3.6,"y":-0.02},{"s":29,"x":3.7,"y":0.0},{"s":29,"x":3.8,"y":0.02},{"s":29,"x":3.9,"y":0.04},{"s":29,"x":4.0,"y":0.053},{"s":29,"x":4.94,"y":0.054},
{"s":30,"x":0,"y":0.02},{"s":30,"x":0.1,"y":0.08},{"s":30,"x":0.2,"y":0.12},{"s":30,"x":0.3,"y":0.06},{"s":30,"x":0.4,"y":0.02},{"s":30,"x":0.5,"y":-0.05},{"s":30,"x":0.6,"y":-0.1},{"s":30,"x":0.7,"y":-0.18},{"s":30,"x":0.8,"y":-0.15},{"s":30,"x":0.9,"y":-0.2},{"s":30,"x":1.0,"y":-0.3},{"s":30,"x":1.1,"y":-0.33},{"s":30,"x":1.2,"y":-0.36},{"s":30,"x":1.3,"y":-0.33},{"s":30,"x":1.4,"y":-0.28},{"s":30,"x":1.5,"y":-0.18},{"s":30,"x":1.6,"y":-0.06},{"s":30,"x":1.7,"y":0.08},{"s":30,"x":1.8,"y":0.18},{"s":30,"x":1.9,"y":0.22},{"s":30,"x":2.0,"y":0.2},{"s":30,"x":2.1,"y":0.16},{"s":30,"x":2.2,"y":0.22},{"s":30,"x":2.3,"y":0.25},{"s":30,"x":2.4,"y":0.18},{"s":30,"x":2.5,"y":0.12},{"s":30,"x":2.6,"y":0.06},{"s":30,"x":2.7,"y":-0.04},{"s":30,"x":2.8,"y":-0.12},{"s":30,"x":2.9,"y":-0.14},{"s":30,"x":3.0,"y":-0.1},{"s":30,"x":3.1,"y":-0.06},{"s":30,"x":3.2,"y":-0.02},{"s":30,"x":3.3,"y":0.0},{"s":30,"x":3.4,"y":0.02},{"s":30,"x":3.5,"y":0.05},{"s":30,"x":3.6,"y":0.09},{"s":30,"x":3.7,"y":0.1},{"s":30,"x":4.94,"y":0.102}
]},
"mark":{"type":"line","interpolate":"monotone","strokeWidth":1,"clip":true},
"encoding":{
"x":{"field":"x","type":"quantitative","scale":{"domain":[0,4.937],"nice":false,"zero":false},"axis":{"values":[0,0.5,1,1.5,2,2.5,3,3.5,4,4.5],"labelExpr":"format(datum.value,'~g')","title":"Laikas, s","labelPadding":19,"titlePadding":5}},
"y":{"field":"y","type":"quantitative","scale":{"domain":[-0.5,0.4],"nice":false,"zero":false},"axis":{"values":[-0.5,-0.4,-0.3,-0.2,-0.1,0,0.1,0.2,0.3,0.4],"labelExpr":"replace(format(datum.value,'.1~f'),'\u2212','-')","title":"Akceleracija, G","labelPadding":18,"titlePadding":7}},
"color":{"field":"s","type":"nominal","scale":{"domain":[1,2,3,4,5,6,7,8,9,10,11,12,13,14,15,16,17,18,19,20,21,22,23,24,25,26,27,28,29,30],"range":["#0072BD","#D95319","#EDB120","#7E2F8E","#77AC30","#4DBEEE","#A2142F"]},"legend":null}
}
}
